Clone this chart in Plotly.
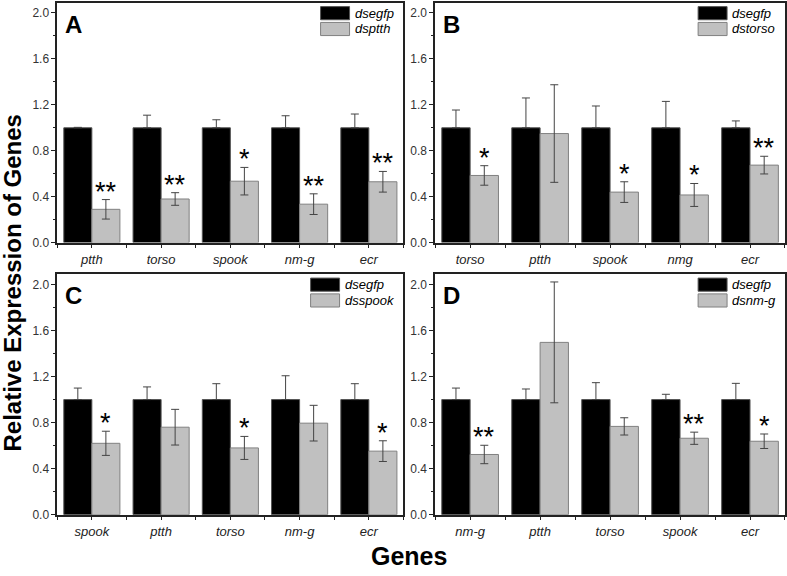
import plotly.graph_objects as go

W, H = 787, 576
FONT = "Liberation Sans, Arial, sans-serif"

panel_letters = ["A", "B", "C", "D"]
control_name = "dsegfp"
treat_names = ["dsptth", "dstorso", "dsspook", "dsnm-g"]

# panel A
genes_a = ["ptth", "torso", "spook", "nm-g", "ecr"]
egfp_a = [1, 1, 1, 1, 1]
egfp_err_a = [0.004, 0.11, 0.07, 0.105, 0.12]
treat_a = [0.29, 0.38, 0.535, 0.335, 0.53]
treat_err_a = [0.085, 0.055, 0.12, 0.09, 0.09]
stars_a = ["**", "**", "*", "**", "**"]

# panel B
genes_b = ["torso", "ptth", "spook", "nmg", "ecr"]
egfp_b = [1, 1, 1, 1, 1]
egfp_err_b = [0.155, 0.26, 0.19, 0.23, 0.06]
treat_b = [0.585, 0.95, 0.44, 0.415, 0.675]
treat_err_b = [0.085, 0.425, 0.09, 0.10, 0.077]
stars_b = ["*", "", "*", "*", "**"]

# panel C
genes_c = ["spook", "ptth", "torso", "nm-g", "ecr"]
egfp_c = [1, 1, 1, 1, 1]
egfp_err_c = [0.10, 0.11, 0.138, 0.207, 0.138]
treat_c = [0.62, 0.76, 0.58, 0.795, 0.552]
treat_err_c = [0.105, 0.155, 0.10, 0.155, 0.09]
stars_c = ["*", "", "*", "", "*"]

# panel D
genes_d = ["nm-g", "ptth", "torso", "spook", "ecr"]
egfp_d = [1, 1, 1, 1, 1]
egfp_err_d = [0.10, 0.092, 0.147, 0.046, 0.141]
treat_d = [0.523, 1.497, 0.767, 0.664, 0.638]
treat_err_d = [0.08, 0.525, 0.075, 0.053, 0.063]
stars_d = ["**", "", "", "**", "*"]

panels = [
    (genes_a, egfp_a, egfp_err_a, treat_a, treat_err_a, stars_a),
    (genes_b, egfp_b, egfp_err_b, treat_b, treat_err_b, stars_b),
    (genes_c, egfp_c, egfp_err_c, treat_c, treat_err_c, stars_c),
    (genes_d, egfp_d, egfp_err_d, treat_d, treat_err_d, stars_d),
]

# frame boxes in pixels: left, right, top(y of ymax), bottom(y of 0)
boxes = [(57.3, 404, 2.7, 245.6), (435.7, 786, 2.7, 245.6),
         (57.3, 404, 277.5, 521), (435.7, 786, 277.5, 521)]
legend_offsets = [83, 87, 93, 87]
ymax = 2.09


def px_x(px):
    return px / W


def px_y(py):
    return 1 - py / H


fig = go.Figure()
annotations = []
shapes = []

for k, (genes, egfp, egfp_err, treat, treat_err, stars) in enumerate(panels):
    n = "" if k == 0 else str(k + 1)
    xa, ya = "x" + n, "y" + n
    pos = list(range(len(genes)))
    left, right, top, bottom = boxes[k]

    fig.add_trace(go.Bar(
        x=pos, y=egfp, xaxis=xa, yaxis=ya, name=control_name,
        marker=dict(color="black", line=dict(color="#555", width=1)),
        error_y=dict(type="data", array=egfp_err, arrayminus=[0] * len(egfp),
                     symmetric=False, color="#444", thickness=1, width=4),
        showlegend=False))
    fig.add_trace(go.Bar(
        x=pos, y=treat, xaxis=xa, yaxis=ya, name=treat_names[k],
        marker=dict(color="#c0c0c0", line=dict(color="#808080", width=1)),
        error_y=dict(type="data", array=treat_err, color="#444",
                     thickness=1, width=4),
        showlegend=False))

    fig.update_layout({
        "xaxis" + n: dict(
            domain=[px_x(left), px_x(right)], anchor=ya, range=[-0.5, 4.5],
            tickmode="array", tickvals=pos, ticktext=genes,
            ticks="outside", ticklen=4, tickcolor="#222",
            tickfont=dict(family=FONT, size=13, color="#222", style="italic"),
            minor=dict(tickmode="linear", tick0=-0.5, dtick=1, ticks="outside",
                       ticklen=4, tickcolor="#222"),
            showline=True, mirror=True, linecolor="#222", linewidth=1.5,
            showgrid=False, zeroline=False, fixedrange=True),
        "yaxis" + n: dict(
            domain=[px_y(bottom), px_y(top)], anchor=xa, range=[0, ymax],
            tickmode="linear", tick0=0, dtick=0.4, tickformat=".1f",
            ticks="outside", ticklen=4, tickcolor="#222",
            tickfont=dict(family=FONT, size=12, color="#333"),
            minor=dict(tickmode="linear", tick0=0, dtick=0.2, ticks="outside",
                       ticklen=2.5, tickcolor="#222"),
            showline=True, mirror=True, linecolor="#222", linewidth=1.5,
            showgrid=False, zeroline=False, fixedrange=True),
    })

    # significance stars above treated bars
    for i, s in enumerate(stars):
        if s:
            annotations.append(dict(
                x=i + 0.2025, y=treat[i] + treat_err[i], xref=xa, yref=ya,
                text=s, showarrow=False, yanchor="bottom", yshift=-9,
                font=dict(family=FONT, size=27, color="black")))

    # panel letter
    annotations.append(dict(
        x=px_x(left + 6), y=px_y(top + 6), xref="paper", yref="paper",
        text="<b>%s</b>" % panel_letters[k], showarrow=False,
        xanchor="left", yanchor="top",
        font=dict(family=FONT, size=24, color="black")))

    # legend
    sx0 = right - legend_offsets[k]
    for j, (name, col, lc) in enumerate([(control_name, "black", "#555"),
                                          (treat_names[k], "#c0c0c0", "#808080")]):
        y0 = top + 4 + 16 * j
        shapes.append(dict(
            type="rect", xref="paper", yref="paper",
            x0=px_x(sx0), x1=px_x(sx0 + 29), y0=px_y(y0), y1=px_y(y0 + 13.3),
            fillcolor=col, line=dict(color=lc, width=1)))
        annotations.append(dict(
            x=px_x(sx0 + 32), y=px_y(y0 + 6.6), xref="paper", yref="paper",
            text=name, showarrow=False, xanchor="left", yanchor="middle",
            font=dict(family=FONT, size=13, color="black", style="italic")))

annotations.append(dict(
    x=px_x(13), y=px_y(286), xref="paper", yref="paper",
    xanchor="center", yanchor="middle",
    text="<b>Relative Expression of Genes</b>", textangle=-90, showarrow=False,
    font=dict(family=FONT, size=24, color="black")))
annotations.append(dict(
    x=px_x(410), y=px_y(563), xref="paper", yref="paper",
    xanchor="center", yanchor="middle",
    text="<b>Genes</b>", showarrow=False,
    font=dict(family=FONT, size=25, color="black")))

fig.update_layout(
    width=W, height=H, margin=dict(l=0, r=0, t=0, b=0),
    barmode="group", bargap=0.19, bargroupgap=0,
    plot_bgcolor="white", paper_bgcolor="white",
    annotations=annotations, shapes=shapes, showlegend=False)

# page body has a default 8px margin; drop it so the figure fills the window
fig.write_html("out.html", config={"displayModeBar": False},
               post_script="document.body.style.margin='0';"
                           "document.body.style.overflow='hidden';")
